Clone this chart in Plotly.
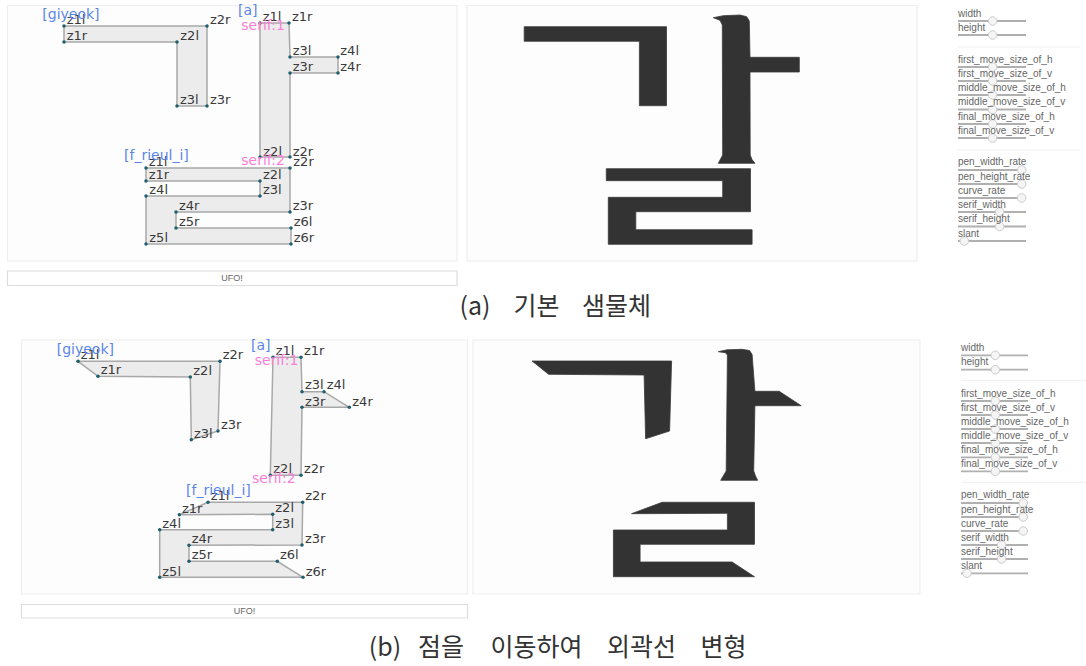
import plotly.graph_objects as go

Z_FONT = "DejaVu Sans"
SLIDER_FONT = "Liberation Sans"
CJK = "Noto Sans CJK KR"

# ---------- panel (a): outline points ----------
A_GIYEOK_NAMES = ["z1l", "z2r", "z3r", "z3l", "z2l", "z1r"]
A_GIYEOK_X = [64, 207, 207, 177, 177, 64]
A_GIYEOK_Y = [26, 26, 106, 106, 42, 42]
A_GIYEOK_LX = [66.7, 210, 210, 180, 180.3, 66.7]
A_GIYEOK_LY = [21, 21, 100.3, 100.3, 37, 37]

A_A_NAMES = ["z1l", "z1r", "z3l", "z4l", "z4r", "z3r", "z2r", "z2l"]
A_A_X = [260, 289, 290, 338, 338, 290, 290, 260]
A_A_Y = [23, 23, 57, 57, 73, 73, 157, 157]
A_A_LX = [262.7, 292, 292.7, 340.3, 340.3, 292.7, 292.7, 263.3]
A_A_LY = [17.3, 17.3, 51.7, 51.7, 67.7, 67.7, 152.3, 152.3]

RIEUL_NAMES = ["z1l", "z2r", "z3r", "z4r", "z5r", "z6l", "z6r", "z5l", "z4l", "z3l", "z2l", "z1r"]
A_RIEUL_X = [146, 290, 290, 176, 176, 291, 291, 146, 146, 260, 260, 146]
A_RIEUL_Y = [168, 168, 212, 212, 228, 228, 244, 244, 196, 196, 181, 181]
A_RIEUL_LX = [148.7, 293.3, 292.7, 179, 179, 293.7, 293.7, 149.3, 149.3, 263, 263, 148.7]
A_RIEUL_LY = [162.7, 162.3, 206.3, 206.3, 222.7, 222.7, 239, 239, 191, 191, 175.7, 175.7]

# ---------- panel (b): outline points ----------
B_GIYEOK_X = [78, 220, 218, 191.3, 190.3, 98]
B_GIYEOK_Y = [361.3, 361.3, 431, 439.7, 377, 376.3]
B_GIYEOK_LX = [80.7, 222.7, 221, 194, 193.3, 100.7]
B_GIYEOK_LY = [356, 356, 425.7, 434.7, 372, 371]

B_A_X = [273, 301, 302, 324, 349.3, 302, 301, 270.3]
B_A_Y = [357.3, 357.3, 391.7, 391.7, 407.3, 407.3, 475.3, 475.3]
B_A_LX = [275.7, 304, 305, 326.7, 352.3, 305, 304, 273.3]
B_A_LY = [352, 352, 386, 386, 402.3, 402.3, 470, 470]

B_RIEUL_X = [208, 302.7, 302, 189, 189, 277.3, 303, 159.7, 159.7, 272.7, 272.7, 179.3]
B_RIEUL_Y = [502.3, 502.3, 545, 545.3, 561.3, 561.3, 577.3, 577.3, 529.7, 529.7, 514.3, 514.7]
B_RIEUL_LX = [210.7, 305.3, 305, 191.7, 191.7, 280, 305.7, 162.3, 162.3, 275.3, 275.3, 182]
B_RIEUL_LY = [497, 497, 540, 540, 556, 556, 572.3, 572.3, 524.3, 524.3, 509, 509.3]

# ---------- group labels ----------
GROUP_LABELS = ["[giyeok]", "[a]", "[f_rieul_i]", "[giyeok]", "[a]", "[f_rieul_i]"]
GROUP_X = [42.3, 238, 124, 56.7, 251, 186]
GROUP_Y = [15, 11.3, 156, 350, 346, 491]
SERIF_LABELS = ["serif:1", "serif:2", "serif:1", "serif:2"]
SERIF_X = [241.3, 241.3, 254.7, 252]
SERIF_Y = [26.7, 161.7, 361.3, 479]

# ---------- large rendered glyphs ----------
BIG_A_GIYEOK_X = [524.2, 666.5, 666.5, 639.4, 639.4, 524.2]
BIG_A_GIYEOK_Y = [26.7, 26.7, 105.7, 105.7, 41.3, 41.3]
BIG_A_A_X = [713.3, 723.3, 740, 746.7, 749.3, 750, 799.3, 799.3, 750, 750.2, 752, 754.9, 718.3, 720.5, 722.7, 722.3, 720]
BIG_A_A_Y = [17.7, 15.7, 15, 16.7, 21, 57.3, 57.3, 72, 72, 155, 159.5, 163.3, 163.3, 159.5, 155, 25, 20.3]
BIG_A_RIEUL_X = [606.3, 750.5, 750.5, 635.8, 635.8, 752.1, 752.1, 608.3, 608.3, 722.7, 722.7, 606.3]
BIG_A_RIEUL_Y = [168.7, 168.7, 211.7, 211.7, 229.7, 229.7, 244.3, 244.3, 197.3, 197.3, 180.7, 180.7]

BIG_B_GIYEOK_X = [532.1, 671.6, 669.6, 645.6, 644.1, 548.6]
BIG_B_GIYEOK_Y = [361, 361, 431, 438.7, 375, 374.3]
BIG_B_A_X = [718.3, 727, 742, 749.5, 752.1, 754.9, 779.2, 801.2, 754.9, 753.7, 755.5, 757.6, 720.7, 723.5, 726.2, 727.4, 725.4]
BIG_B_A_Y = [351.7, 349.8, 349.3, 350.5, 354.5, 391.3, 391.3, 405.7, 405.7, 471, 476, 480.3, 480.3, 476, 471, 355, 352.7]
BIG_B_RIEUL_X = [662.1, 754.5, 754.5, 640.1, 640.1, 732.1, 754.5, 613.4, 613.4, 727.4, 727.4, 631.5]
BIG_B_RIEUL_Y = [502.3, 502.3, 544.3, 544.3, 562, 562, 576.7, 576.7, 530, 530, 513.3, 513.7]

# ---------- sliders ----------
SLIDER_NAMES = ["width", "height",
                "first_move_size_of_h", "first_move_size_of_v",
                "middle_move_size_of_h", "middle_move_size_of_v",
                "final_move_size_of_h", "final_move_size_of_v",
                "pen_width_rate", "pen_height_rate", "curve_rate",
                "serif_width", "serif_height", "slant"]
A_LABEL_Y = [14, 28, 60, 74, 88.5, 102.5, 117, 131, 162.7, 177, 191, 205.5, 219.5, 234]
A_TRACK_Y = [21, 35, 67, 81, 95, 109.5, 124, 138, 170, 184, 198, 212, 226.5, 241]
A_HANDLE_X = [992.6] * 8 + [1021.7, 1021.7, 1021.7, 999.7, 999.7, 964.3]
B_LABEL_Y = [348.3, 362.7, 394, 408, 422, 436, 450.3, 464.3, 495.7, 510, 524, 538, 552, 566.3]
B_TRACK_Y = [355.3, 369.7, 401, 415, 429, 443, 457.3, 471.3, 503, 517, 531, 545, 559, 573.3]
B_HANDLE_X = [995.3] * 8 + [1023.2, 1023.2, 1023.2, 1001.6, 1001.6, 967]

CAPTION_WORDS = ["(a)", "기본", "샘물체", "(b)", "점을", "이동하여", "외곽선", "변형"]
CAPTION_X = [475, 536.5, 616.5, 385, 441, 536.5, 641.5, 723.5]
CAPTION_Y = [309, 309, 309, 650, 650, 650, 650, 650]

fig = go.Figure()


def outline(xs, ys, names, lx, ly):
    fig.add_trace(go.Scatter(x=xs + xs[:1], y=ys + ys[:1], mode="lines", fill="toself",
                             fillcolor="#ececec", line=dict(color="#a8a8a8", width=1.5),
                             hoverinfo="skip"))
    fig.add_trace(go.Scatter(x=xs, y=ys, mode="markers",
                             marker=dict(color="#1d5f70", size=3.5), hoverinfo="skip"))
    fig.add_trace(go.Scatter(x=lx, y=ly, mode="text", text=names, textposition="middle right",
                             textfont=dict(family=Z_FONT, size=13, color="#3a3a3a"),
                             hoverinfo="skip", cliponaxis=False))


def solid(xs, ys):
    fig.add_trace(go.Scatter(x=xs + xs[:1], y=ys + ys[:1], mode="lines", fill="toself",
                             fillcolor="#333333", line=dict(color="#3a3a3a", width=0.8),
                             hoverinfo="skip"))


def sliders(left, right, label_y, track_y, handle_x):
    xs, ys = [], []
    for y in track_y:
        xs += [left, right, None]
        ys += [y, y, None]
    fig.add_trace(go.Scatter(x=xs, y=ys, mode="lines", line=dict(color="#b0b0b0", width=1.8),
                             hoverinfo="skip"))
    fig.add_trace(go.Scatter(x=handle_x, y=track_y, mode="markers",
                             marker=dict(color="#f5f5f5", size=8.5, line=dict(color="#cccccc", width=1)),
                             hoverinfo="skip"))
    fig.add_trace(go.Scatter(x=[left] * len(label_y), y=label_y, mode="text", text=SLIDER_NAMES,
                             textposition="middle right",
                             textfont=dict(family=SLIDER_FONT, size=10, color="#666666"),
                             hoverinfo="skip", cliponaxis=False))


shapes = []
for x0, x1, y0, y1 in [(7.5, 457, 5.5, 261), (467, 917, 5.5, 261),
                       (21.5, 467.5, 340, 594), (473, 920, 340, 594)]:
    shapes.append(dict(type="rect", x0=x0, x1=x1, y0=y0, y1=y1, layer="below",
                       fillcolor="#fdfdfd", line=dict(color="#eeeeee", width=1.2)))
for x0, x1, y0, y1 in [(7.5, 457, 271, 285.5), (21.5, 467.5, 604.5, 618)]:
    shapes.append(dict(type="rect", x0=x0, x1=x1, y0=y0, y1=y1, layer="below",
                       fillcolor="#ffffff", line=dict(color="#dddddd", width=1.2)))
for x0, x1, y in [(958, 1080, 47), (958, 1080, 150), (961, 1086, 380.3), (961, 1086, 482.3)]:
    shapes.append(dict(type="line", x0=x0, x1=x1, y0=y, y1=y, layer="below",
                       line=dict(color="#f2f2f2", width=1.2)))

outline(A_GIYEOK_X, A_GIYEOK_Y, A_GIYEOK_NAMES, A_GIYEOK_LX, A_GIYEOK_LY)
outline(A_A_X, A_A_Y, A_A_NAMES, A_A_LX, A_A_LY)
outline(A_RIEUL_X, A_RIEUL_Y, RIEUL_NAMES, A_RIEUL_LX, A_RIEUL_LY)
outline(B_GIYEOK_X, B_GIYEOK_Y, A_GIYEOK_NAMES, B_GIYEOK_LX, B_GIYEOK_LY)
outline(B_A_X, B_A_Y, A_A_NAMES, B_A_LX, B_A_LY)
outline(B_RIEUL_X, B_RIEUL_Y, RIEUL_NAMES, B_RIEUL_LX, B_RIEUL_LY)

fig.add_trace(go.Scatter(x=GROUP_X, y=GROUP_Y, mode="text", text=GROUP_LABELS,
                         textposition="middle right",
                         textfont=dict(family=Z_FONT, size=14, color="#5b86e8"), hoverinfo="skip"))
fig.add_trace(go.Scatter(x=SERIF_X, y=SERIF_Y, mode="text", text=SERIF_LABELS,
                         textposition="middle right",
                         textfont=dict(family=Z_FONT, size=14, color="#fb7fd8"), hoverinfo="skip"))

for xs, ys in [(BIG_A_GIYEOK_X, BIG_A_GIYEOK_Y), (BIG_A_A_X, BIG_A_A_Y), (BIG_A_RIEUL_X, BIG_A_RIEUL_Y),
               (BIG_B_GIYEOK_X, BIG_B_GIYEOK_Y), (BIG_B_A_X, BIG_B_A_Y), (BIG_B_RIEUL_X, BIG_B_RIEUL_Y)]:
    solid(xs, ys)

sliders(958, 1026, A_LABEL_Y, A_TRACK_Y, A_HANDLE_X)
sliders(961, 1028, B_LABEL_Y, B_TRACK_Y, B_HANDLE_X)

fig.add_trace(go.Scatter(x=[232, 244.5], y=[278.5, 611.5], mode="text", text=["UFO!", "UFO!"],
                         textfont=dict(family=SLIDER_FONT, size=9, color="#666666"), hoverinfo="skip"))
fig.add_trace(go.Scatter(x=CAPTION_X, y=CAPTION_Y, mode="text", text=CAPTION_WORDS,
                         textfont=dict(family=CJK, size=25, color="#333333"), hoverinfo="skip"))

fig.update_layout(width=1086, height=666, margin=dict(l=0, r=0, t=0, b=0), showlegend=False,
                  paper_bgcolor="#ffffff", plot_bgcolor="#ffffff", shapes=shapes,
                  xaxis=dict(range=[0, 1086], visible=False, fixedrange=True),
                  yaxis=dict(range=[666, 0], visible=False, fixedrange=True))
fig.write_html("out.html", config={"displayModeBar": False},
               post_script="document.body.style.margin='0';document.body.style.overflow='hidden';")
